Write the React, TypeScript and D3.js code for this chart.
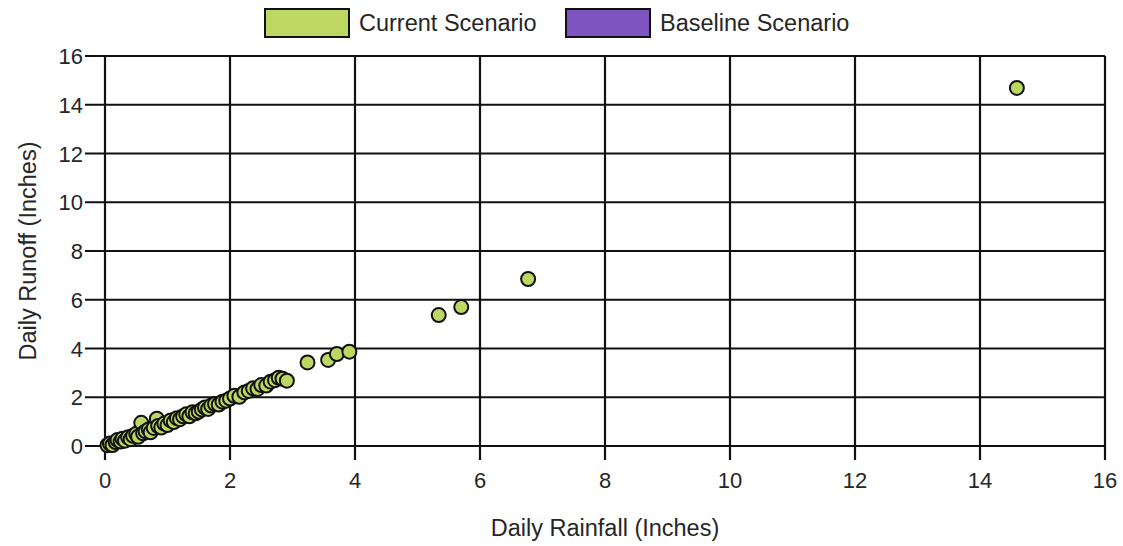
import React from "react";
import * as d3 from "d3";

// Daily rainfall vs. daily runoff (inches), current scenario
const rainfall: number[] = [
  0.04, 0.08, 0.12, 0.17, 0.20, 0.25, 0.28, 0.32, 0.37, 0.41, 0.45, 0.50, 0.53, 0.58, 0.61,
  0.65, 0.70, 0.73, 0.78, 0.83, 0.85, 0.90, 0.95, 1.00, 1.05, 1.10, 1.15, 1.20, 1.25, 1.30,
  1.35, 1.40, 1.45, 1.50, 1.55, 1.60, 1.65, 1.70, 1.76, 1.82, 1.88, 1.94, 2.00, 2.07, 2.15,
  2.23, 2.30, 2.37, 2.44, 2.50, 2.58, 2.65, 2.72, 2.78, 2.84, 2.91, 3.24, 3.57, 3.71, 3.91,
  5.34, 5.70, 6.77, 14.59,
];
const runoff: number[] = [
  0.03, 0.10, 0.04, 0.16, 0.25, 0.18, 0.30, 0.22, 0.36, 0.28, 0.42, 0.50, 0.38, 0.95, 0.52,
  0.60, 0.68, 0.56, 0.74, 1.12, 0.82, 0.76, 0.92, 0.86, 1.05, 0.98, 1.14, 1.10, 1.22, 1.30,
  1.22, 1.38, 1.34, 1.41, 1.50, 1.58, 1.52, 1.66, 1.72, 1.70, 1.82, 1.86, 1.95, 2.06, 2.02,
  2.20, 2.26, 2.37, 2.34, 2.50, 2.48, 2.64, 2.70, 2.80, 2.76, 2.68, 3.43, 3.53, 3.77, 3.87,
  5.37, 5.70, 6.85, 14.69,
];

// Baseline scenario has no points shown, only its legend entry
const baselineRainfall: number[] = [];
const baselineRunoff: number[] = [];

const xTicks: number[] = [0, 2, 4, 6, 8, 10, 12, 14, 16];
const yTicks: number[] = [0, 2, 4, 6, 8, 10, 12, 14, 16];

const seriesNames: string[] = ["Current Scenario", "Baseline Scenario"];
const seriesColors: string[] = ["#bdd862", "#7e55c0"];

const W = 1123;
const H = 546;
const margin = { left: 105, right: 18, top: 56, bottom: 100 };
const FONT = "'Liberation Sans', Arial, Helvetica, sans-serif";
const TEXT = "#262626";

export default function App() {
  const x = d3.scaleLinear().domain([0, 16]).range([margin.left, W - margin.right]);
  const y = d3.scaleLinear().domain([0, 16]).range([H - margin.bottom, margin.top]);

  const current = rainfall.map((r, i) => ({ r, q: runoff[i] }));
  const baseline = baselineRainfall.map((r, i) => ({ r, q: baselineRunoff[i] }));

  const x0 = x(0);
  const x1 = x(16);
  const y0 = y(0);
  const y1 = y(16);

  const legendX = [265, 566];

  return (
    <svg
      width={W}
      height={H}
      style={{ position: "absolute", left: 0, top: 0, background: "#fff" }}
      fontFamily={FONT}
    >
      {/* legend */}
      {seriesNames.map((name, i) => (
        <g key={name} transform={`translate(${legendX[i]},9)`}>
          <rect x={0} y={0} width={84} height={28} fill={seriesColors[i]} stroke="#111" strokeWidth={2} />
          <text x={94} y={22} fontSize={23.5} fill={TEXT}>
            {name}
          </text>
        </g>
      ))}

      {/* grid */}
      {xTicks.map((t) => (
        <line key={`gx${t}`} x1={x(t)} x2={x(t)} y1={y1} y2={y0 + 14} stroke="#111" strokeWidth={2.2} />
      ))}
      {yTicks.map((t) => (
        <line key={`gy${t}`} x1={x0 - 20} x2={x1} y1={y(t)} y2={y(t)} stroke="#111" strokeWidth={2.2} />
      ))}

      {/* tick labels */}
      {xTicks.map((t) => (
        <text key={`tx${t}`} x={x(t)} y={y0 + 42} textAnchor="middle" fontSize={22} fill={TEXT}>
          {t}
        </text>
      ))}
      {yTicks.map((t) => (
        <text key={`ty${t}`} x={x0 - 22} y={y(t) + 8} textAnchor="end" fontSize={22} fill={TEXT}>
          {t}
        </text>
      ))}

      {/* axis titles */}
      <text x={(x0 + x1) / 2} y={536} textAnchor="middle" fontSize={23.5} fill={TEXT}>
        Daily Rainfall (Inches)
      </text>
      <text
        transform={`translate(36,${(y0 + y1) / 2}) rotate(-90)`}
        textAnchor="middle"
        fontSize={23.5}
        fill={TEXT}
      >
        Daily Runoff (Inches)
      </text>

      {/* points */}
      <g>
        {baseline.map((d, i) => (
          <circle key={`b${i}`} cx={x(d.r)} cy={y(d.q)} r={7} fill={seriesColors[1]} stroke="#111" strokeWidth={2} />
        ))}
        {current.map((d, i) => (
          <circle key={`c${i}`} cx={x(d.r)} cy={y(d.q)} r={7} fill={seriesColors[0]} stroke="#111" strokeWidth={2} />
        ))}
      </g>
    </svg>
  );
}
